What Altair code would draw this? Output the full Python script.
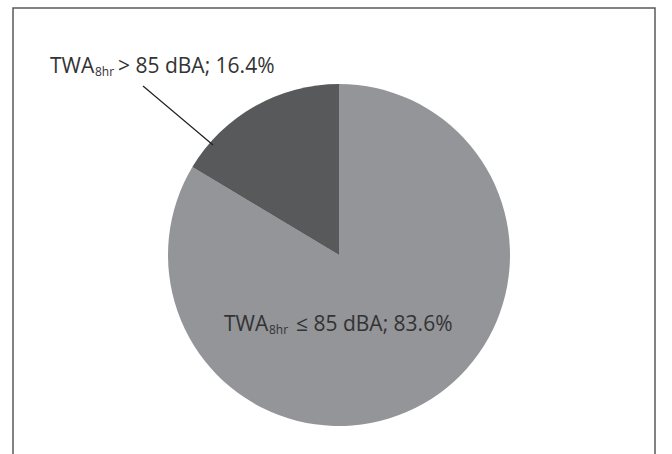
import altair as alt
import pandas as pd

# ---- data ----
categories = ["TWA8hr ≤ 85 dBA", "TWA8hr > 85 dBA"]
shares = [83.6, 16.4]
slice_colors = ["#939598", "#58595b"]

label_main = ["TWA", "TWA"]
label_sub = ["8hr", "8hr"]
label_rest = ["> 85 dBA; 16.4%", "≤ 85 dBA; 83.6%"]

df = pd.DataFrame({"category": categories, "share": shares, "order": [0, 1]})
one = pd.DataFrame({"k": [0]})

W, H = 672, 454
cx, cy, r = 339, 255, 171
FONT = "Open Sans"
FS, FSS = 21, 12
TXT = "#333333"

pie = alt.Chart(df).mark_arc(radius=r).encode(
    theta=alt.Theta("share:Q", stack=True),
    color=alt.Color("category:N", scale=alt.Scale(domain=categories, range=slice_colors), legend=None),
    order=alt.Order("order:Q"),
    x=alt.value(cx),
    y=alt.value(cy),
)

def text(s, x, y, size):
    return alt.Chart(one).mark_text(
        text=s, align="left", baseline="alphabetic", font=FONT, fontSize=size, color=TXT
    ).encode(x=alt.value(x), y=alt.value(y))

# label 1 (outside, upper left)
l1x, l1y = 50, 73
lab1 = text(label_main[0], l1x, l1y, FS) + text(label_sub[0], l1x + 45, l1y + 3, FSS) + text(label_rest[0], l1x + 68, l1y, FS)
# label 2 (inside)
l2x, l2y = 224, 331
lab2 = text(label_main[1], l2x, l2y, FS) + text(label_sub[1], l2x + 45, l2y + 3, FSS) + text(label_rest[1], l2x + 72, l2y, FS)

leader = alt.Chart(one).mark_rule(color="#231f20", strokeWidth=1.2).encode(
    x=alt.value(143), y=alt.value(86), x2=alt.value(213), y2=alt.value(145)
)

frame = alt.Chart(one).mark_rect(fillOpacity=0, stroke="#595959", strokeWidth=1.5).encode(
    x=alt.value(13), x2=alt.value(655), y=alt.value(8), y2=alt.value(470)
)

chart = alt.layer(frame, pie, leader, lab1, lab2).properties(
    width=W, height=H, padding=0, autosize=alt.AutoSizeParams(type="none"), background="white"
).configure_view(stroke=None)

chart.save("out.html", embed_options={"renderer": "svg", "actions": False})
